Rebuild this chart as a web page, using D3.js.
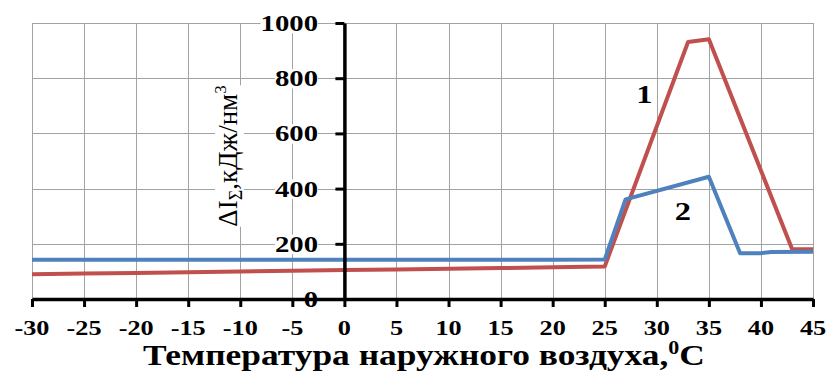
<!DOCTYPE html>
<html>
<head>
<meta charset="utf-8">
<script src="https://cdn.jsdelivr.net/npm/d3@7"></script>
<style>
  html, body { margin: 0; padding: 0; background: #fff; }
  svg { display: block; }
</style>
</head>
<body>
<svg id="chart" width="829" height="372"></svg>
<script>
// Outdoor temperature, °C
const xTicks = [-30, -25, -20, -15, -10, -5, 0, 5, 10, 15, 20, 25, 30, 35, 40, 45];
const yTicks = [0, 200, 400, 600, 800, 1000];

// Curve 1
const temps1 = [-30, -25, -20, -15, -10, -5, 0, 5, 10, 15, 20, 25, 33, 35, 43, 45];
const heat1  = [90, 92, 94, 97, 100, 102, 105, 107, 110, 112, 115, 118, 931, 941, 180, 180];

// Curve 2
const temps2 = [-30, -25, -20, -15, -10, -5, 0, 5, 10, 15, 20, 25, 27, 35, 38, 40, 41, 45];
const heat2  = [142, 142, 142, 142, 142, 142, 142, 142, 142, 142, 142, 143, 361, 443, 166, 166, 170, 171];

const curveNames = ["1", "2"];
const curveLabelAt = [[28.8, 743], [32.5, 319]];

const plotL = 32, plotR = 813, plotT = 23, plotB = 299;
const red = "#c0504d", blue = "#4f81bd";
const serif = "'Liberation Serif', 'Times New Roman', serif";
const stretch = 1.25;

const svg = d3.select("#chart");

const x = d3.scaleLinear().domain([-30, 45]).range([plotL, plotR]);
const y = d3.scaleLinear().domain([0, 1000]).range([plotB, plotT]);

// grid
const grid = svg.append("g").attr("stroke", "#a3a3a3").attr("stroke-width", 1);
grid.selectAll("line.v").data(xTicks).join("line").attr("class", "v")
  .attr("x1", d => Math.round(x(d)) + 0.5).attr("x2", d => Math.round(x(d)) + 0.5)
  .attr("y1", y(1000)).attr("y2", y(0));
grid.selectAll("line.h").data(yTicks.slice(1)).join("line").attr("class", "h")
  .attr("x1", x(-30)).attr("x2", x(45))
  .attr("y1", d => Math.round(y(d)) + 0.5).attr("y2", d => Math.round(y(d)) + 0.5);

// y axis title, on a white backing
const yTitleG = svg.append("g").attr("transform", "translate(237,156) rotate(-90)");
const yTitle = yTitleG.append("text")
  .attr("text-anchor", "middle")
  .attr("font-family", serif).attr("font-size", 27).attr("fill", "#000");
yTitle.append("tspan").text("ΔI");
yTitle.append("tspan").attr("font-size", 18).attr("dy", 5).text("Σ");
yTitle.append("tspan").attr("dy", -5).text(",кДж/нм");
yTitle.append("tspan").attr("font-size", 17).attr("dy", -11).text("3");
{
  const b = yTitle.node().getBBox();
  yTitleG.insert("rect", "text").attr("x", b.x).attr("y", b.y + 4)
    .attr("width", b.width).attr("height", b.height - 6).attr("fill", "#fff");
}

// y tick labels with white backing
const yLab = svg.append("g");
yTicks.forEach(v => {
  if (v === 0) return;
  const g = yLab.append("g").attr("transform", `translate(318,${y(v)}) scale(${stretch},1)`);
  const t = g.append("text").attr("text-anchor", "end").attr("dy", "0.35em")
    .attr("font-family", serif).attr("font-weight", "bold").attr("font-size", 23)
    .attr("fill", "#000").text(v);
  const b = t.node().getBBox();
  g.insert("rect", "text").attr("x", b.x).attr("y", b.y + 3)
    .attr("width", b.width).attr("height", b.height - 6).attr("fill", "#fff");
});

// series
const line = d3.line().x(d => x(d[0])).y(d => y(d[1]));
svg.append("path").datum(d3.zip(temps1, heat1)).attr("d", line)
  .attr("fill", "none").attr("stroke", red).attr("stroke-width", 4).attr("stroke-linejoin", "round");
svg.append("path").datum(d3.zip(temps2, heat2)).attr("d", line)
  .attr("fill", "none").attr("stroke", blue).attr("stroke-width", 4).attr("stroke-linejoin", "round");

// axes
const xAxis = svg.append("g").attr("transform", `translate(0,${y(0)})`)
  .call(d3.axisBottom(x).tickValues(xTicks).tickSize(8).tickSizeOuter(0).tickFormat(""));
const yAxis = svg.append("g").attr("transform", `translate(${x(0)},0)`)
  .call(d3.axisLeft(y).tickValues(yTicks).tickSize(9).tickSizeOuter(0).tickFormat(""));
[xAxis, yAxis].forEach(a => {
  a.select(".domain").attr("stroke", "#000").attr("stroke-width", 3.5);
  a.selectAll(".tick line").attr("stroke", "#000").attr("stroke-width", 3);
});

// "0" label sits on top of the x axis
svg.append("g").attr("transform", `translate(318,${y(0)}) scale(${stretch},1)`)
  .append("text").attr("text-anchor", "end").attr("dy", "0.35em")
  .attr("font-family", serif).attr("font-weight", "bold").attr("font-size", 23)
  .attr("fill", "#000").text(0);

// x tick labels
svg.append("g").selectAll("g").data(xTicks).join("g")
  .attr("transform", d => `translate(${x(d)},335) scale(${stretch},1)`)
  .append("text").attr("text-anchor", "middle")
  .attr("font-family", serif).attr("font-weight", "bold").attr("font-size", 21)
  .attr("fill", "#000").text(d => d < 0 ? "-" + Math.abs(d) : d);

// x axis title
const xTitleG = svg.append("g");
const xTitle = xTitleG.append("text").attr("text-anchor", "middle")
  .attr("font-family", serif).attr("font-weight", "bold").attr("font-size", 29).attr("fill", "#000");
xTitle.append("tspan").text("Температура наружного воздуха,");
xTitle.append("tspan").attr("font-size", 18).attr("dy", -11).text("0");
xTitle.append("tspan").attr("dy", 11).text("C");
{
  const w = xTitle.node().getComputedTextLength();
  const s = 562 / w;
  xTitleG.attr("transform", `translate(424,365) scale(${s},1)`);
}

// curve labels
svg.append("g").selectAll("g").data(curveNames).join("g")
  .attr("transform", (d, i) => `translate(${x(curveLabelAt[i][0])},${y(curveLabelAt[i][1])}) scale(${stretch},1)`)
  .append("text").attr("text-anchor", "middle").attr("dy", "0.35em")
  .attr("font-family", serif).attr("font-weight", "bold").attr("font-size", 26)
  .attr("fill", "#000").text(d => d);
</script>
</body>
</html>
